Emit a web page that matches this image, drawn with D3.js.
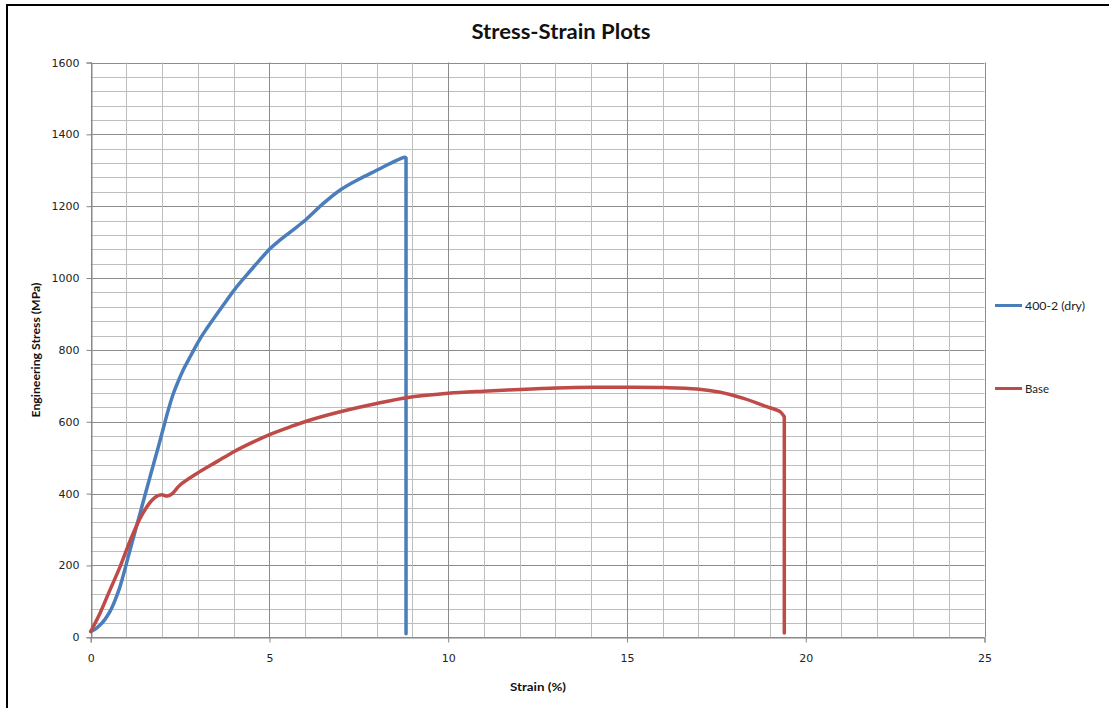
<!DOCTYPE html>
<html>
<head>
<meta charset="utf-8">
<script src="https://cdn.jsdelivr.net/npm/d3@7"></script>
<style>
html,body{margin:0;padding:0;background:#fff;}
svg{display:block;}
</style>
</head>
<body>
<svg id="chart" width="1109" height="708"></svg>
<script>
// ---- data ----
const seriesNames = ["400-2 (dry)", "Base"];
const seriesColors = ["#4A7EBB", "#BE4B48"];

const dryStrain = [0,0.12,0.26,0.4,0.54,0.68,0.82,1.1,1.38,1.66,1.9,2.08,2.2,2.31,2.45,2.59,2.75,2.9,3.07,3.25,3.71,4.04,4.36,4.7,5.02,5.3,5.58,6.0,6.5,6.98,7.5,8.0,8.4,8.79,8.82,8.82];
const dryStress = [16,22,34,50,72,103,141,243,345,447,533,600,643,678,713,745,775,803,833,860,925,970,1008,1047,1082,1106,1128,1161,1207,1245,1275,1300,1320,1336,1334,10];

const baseStrain = [0,0.26,0.54,0.82,1.1,1.38,1.55,1.7,1.85,1.99,2.13,2.27,2.5,2.97,3.53,3.99,4.55,5.02,5.58,6.14,6.98,8.0,8.84,10.0,10.98,12.01,13.04,14.06,15.04,16.02,16.96,17.61,18.26,18.91,19.28,19.4,19.4];
const baseStress = [16,67,132,196,268,331,360,380,393,397,393,399,424,456,489,516,544,565,586,605,628,651,667,679,685,690,694,696,696,695,691,682,665,642,628,614,12];

const xTicks = [0,5,10,15,20,25];
const yTicks = [0,200,400,600,800,1000,1200,1400,1600];
const titleText = "Stress-Strain Plots";
const xTitle = "Strain (%)";
const yTitle = "Engineering Stress (MPa)";

// ---- layout ----
const svg = d3.select("#chart");
const L = 90.7, R = 984.5, T = 62.5, B = 637.3;
const x = d3.scaleLinear().domain([0,25]).range([L,R]);
const y = d3.scaleLinear().domain([0,1600]).range([B,T]);

// frame (left and top edges visible in the reference)
svg.append("line").attr("x1",7).attr("x2",7).attr("y1",4).attr("y2",708).attr("stroke","#000").attr("stroke-width",2);
svg.append("line").attr("x1",6).attr("x2",1109).attr("y1",5).attr("y2",5).attr("stroke","#000").attr("stroke-width",2);

// grid
const g = svg.append("g");
const minorY = d3.range(0,1601,40);
const minorX = d3.range(0,26,1);
g.selectAll(".hy").data(minorY).enter().append("line")
  .attr("x1",L).attr("x2",R)
  .attr("y1",d=>Math.round(y(d))+0.5).attr("y2",d=>Math.round(y(d))+0.5)
  .attr("stroke",d=> d%200===0 ? "#8c8c8c" : "#bdbdbd").attr("stroke-width",1);
g.selectAll(".vx").data(minorX).enter().append("line")
  .attr("y1",T).attr("y2",B)
  .attr("x1",d=>Math.round(x(d))+0.5).attr("x2",d=>Math.round(x(d))+0.5)
  .attr("stroke",d=> d%5===0 ? "#8c8c8c" : "#bdbdbd").attr("stroke-width",1);

// axes
const yAxis = d3.axisLeft(y).tickValues(yTicks).tickSize(5).tickPadding(7).tickFormat(d3.format("d"));
const xAxis = d3.axisBottom(x).tickValues(xTicks).tickSize(5).tickPadding(12).tickFormat(d3.format("d"));
const ya = svg.append("g").attr("transform",`translate(${Math.round(L)+0.5},0)`).call(yAxis);
const xa = svg.append("g").attr("transform",`translate(0,${Math.round(B)+0.5})`).call(xAxis);
[ya,xa].forEach(a=>{
  a.select(".domain").attr("stroke","#868686");
  a.selectAll(".tick line").attr("stroke","#868686");
  a.selectAll(".tick text").attr("fill","#222").style("font-family","'DejaVu Sans', Verdana, sans-serif").style("font-size","11px");
});

// series: smooth body, straight final drop
const line = d3.line().x(d=>x(d[0])).y(d=>y(d[1])).curve(d3.curveCatmullRom.alpha(0.5));
const series = [
  d3.zip(dryStrain, dryStress),
  d3.zip(baseStrain, baseStress)
];
function pathFor(pts){
  const body = pts.slice(0, -1);
  const last = pts[pts.length-1];
  return line(body) + "L" + x(last[0]) + "," + y(last[1]);
}
svg.append("g").selectAll("path").data(series).enter().append("path")
  .attr("d",pathFor).attr("fill","none")
  .attr("stroke",(d,i)=>seriesColors[i]).attr("stroke-width",3.5)
  .attr("stroke-linejoin","round").attr("stroke-linecap","round");

// title
svg.append("text").attr("x",561).attr("y",39).attr("text-anchor","middle")
  .style("font-family","Lato, 'Open Sans', sans-serif").style("font-weight","bold").style("font-size","20px")
  .attr("fill","#111").attr("textLength",179).attr("lengthAdjust","spacingAndGlyphs").text(titleText);

// axis titles
svg.append("text").attr("x",538).attr("y",691).attr("text-anchor","middle")
  .style("font-family","Lato, 'Open Sans', sans-serif").style("font-weight","bold").style("font-size","11px")
  .attr("fill","#111").attr("textLength",56).attr("lengthAdjust","spacingAndGlyphs").text(xTitle);
svg.append("text").attr("transform","translate(40,350) rotate(-90)").attr("text-anchor","middle")
  .style("font-family","Lato, 'Open Sans', sans-serif").style("font-weight","bold").style("font-size","11px")
  .attr("fill","#111").attr("textLength",135).attr("lengthAdjust","spacingAndGlyphs").text(yTitle);

// legend
const legY = [305.5, 388.5];
const leg = svg.append("g").selectAll("g").data(seriesNames).enter().append("g");
leg.append("line").attr("x1",995).attr("x2",1022).attr("y1",(d,i)=>legY[i]).attr("y2",(d,i)=>legY[i])
  .attr("stroke",(d,i)=>seriesColors[i]).attr("stroke-width",3);
leg.append("text").attr("x",1025).attr("y",(d,i)=>legY[i]+4)
  .style("font-family","Lato, 'Open Sans', sans-serif").style("font-size","11px").attr("fill","#222")
  .attr("textLength",(d,i)=> i===0 ? 60 : 24).attr("lengthAdjust","spacingAndGlyphs").text(d=>d);
</script>
</body>
</html>
